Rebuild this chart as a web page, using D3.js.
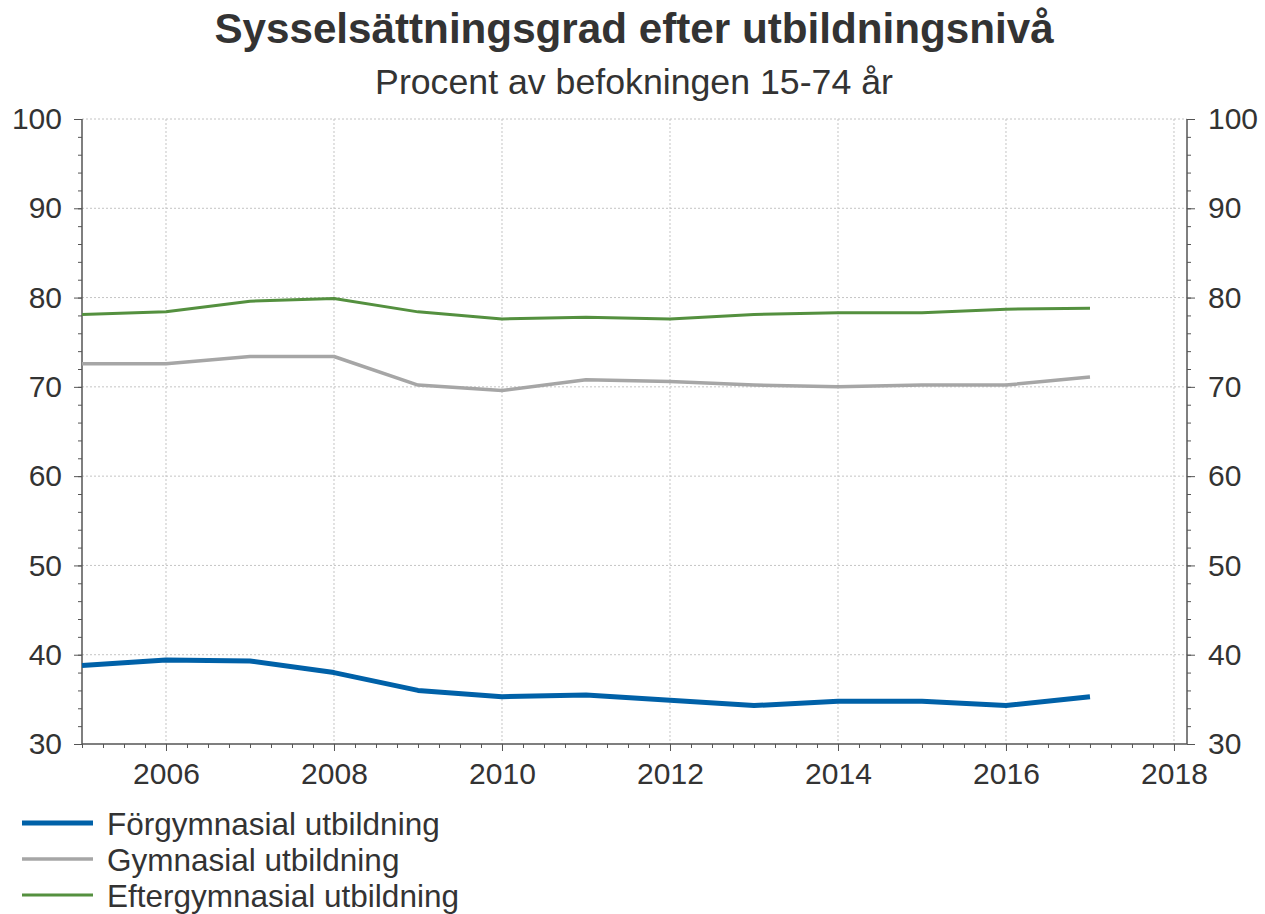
<!DOCTYPE html>
<html>
<head>
<meta charset="utf-8">
<script src="https://cdn.jsdelivr.net/npm/d3@7"></script>
<style>
  body { margin: 0; background: #fff; }
  svg text { font-family: "Liberation Sans", Arial, sans-serif; fill: #333; }
  .axis path, .axis line { stroke: #555; }
  .axis text { font-size: 30px; }
  .grid line { stroke: #c4c4c4; stroke-width: 1; stroke-dasharray: 2,2; }
</style>
</head>
<body>
<svg id="chart" width="1265" height="914"></svg>
<script>
const width = 1265;
const height = 914;

/* DATA */
const years = [2005, 2006, 2007, 2008, 2009, 2010, 2011, 2012, 2013, 2014, 2015, 2016, 2017];
const forgymnasial = [38.8, 39.4, 39.3, 38.0, 36.0, 35.3, 35.5, 34.9, 34.3, 34.8, 34.8, 34.3, 35.3];
const gymnasial = [72.6, 72.6, 73.4, 73.4, 70.2, 69.6, 70.8, 70.6, 70.2, 70.0, 70.2, 70.2, 71.1];
const eftergymnasial = [78.1, 78.4, 79.6, 79.9, 78.4, 77.6, 77.8, 77.6, 78.1, 78.3, 78.3, 78.7, 78.8];

const seriesNames = ["Förgymnasial utbildning", "Gymnasial utbildning", "Eftergymnasial utbildning"];
const seriesValues = [forgymnasial, gymnasial, eftergymnasial];
const seriesColors = ["#0061a8", "#a6a6a6", "#54903f"];
const seriesWidths = [5, 3.5, 3];

const yTicks = [30, 40, 50, 60, 70, 80, 90, 100];
const xTicks = [2006, 2008, 2010, 2012, 2014, 2016, 2018];

const titleText = "Sysselsättningsgrad efter utbildningsnivå";
const subtitleText = "Procent av befokningen 15-74 år";

/* PLOT AREA */
const margin = { top: 119, bottom: 170, left: 82, right: 78 };
const plotWidth = width - margin.left - margin.right;
const plotHeight = height - margin.top - margin.bottom;

const svg = d3.select("svg#chart");
const plot = svg.append("g").attr("transform", translate(margin.left, margin.top));

/* SCALES */
const x = d3.scaleLinear().domain([2005, 2018.155]).range([0, plotWidth]);
const y = d3.scaleLinear().domain([30, 100]).range([plotHeight, 0]);

/* TITLES */
svg.append("text")
  .attr("x", 634).attr("y", 43)
  .attr("text-anchor", "middle")
  .style("font-size", "42.2px")
  .style("font-weight", "bold")
  .text(titleText);

svg.append("text")
  .attr("x", 634).attr("y", 94)
  .attr("text-anchor", "middle")
  .style("font-size", "35.7px")
  .text(subtitleText);

/* GRID */
const grid = plot.append("g").attr("class", "grid");
grid.selectAll("line.h")
  .data(yTicks.filter(d => d > 30))
  .enter().append("line")
  .attr("class", "h")
  .attr("x1", 0).attr("x2", plotWidth)
  .attr("y1", d => y(d)).attr("y2", d => y(d));

grid.selectAll("line.v")
  .data(xTicks)
  .enter().append("line")
  .attr("class", "v")
  .attr("x1", d => x(d)).attr("x2", d => x(d))
  .attr("y1", 0).attr("y2", plotHeight);

/* AXES */
const minorY = d3.range(30, 100.1, 2);
const minorX = d3.range(2005, 2018.1, 0.25);

// minor ticks first, then major axes on top
plot.append("g").attr("class", "axis")
  .call(d3.axisLeft(y).tickValues(minorY).tickSize(4).tickFormat(""))
  .call(g => g.select(".domain").remove());
plot.append("g").attr("class", "axis")
  .attr("transform", translate(plotWidth, 0))
  .call(d3.axisRight(y).tickValues(minorY).tickSize(4).tickFormat(""))
  .call(g => g.select(".domain").remove());
plot.append("g").attr("class", "axis")
  .attr("transform", translate(0, plotHeight))
  .call(d3.axisBottom(x).tickValues(minorX).tickSize(4).tickFormat(""))
  .call(g => g.select(".domain").remove());

const yLeft = plot.append("g").attr("class", "axis")
  .call(d3.axisLeft(y).tickValues(yTicks).tickSize(8).tickSizeOuter(0).tickPadding(12).tickFormat(d3.format("d")));
const yRight = plot.append("g").attr("class", "axis")
  .attr("transform", translate(plotWidth, 0))
  .call(d3.axisRight(y).tickValues(yTicks).tickSize(8).tickSizeOuter(0).tickPadding(13).tickFormat(d3.format("d")));
const xAxis = plot.append("g").attr("class", "axis")
  .attr("transform", translate(0, plotHeight))
  .call(d3.axisBottom(x).tickValues(xTicks).tickSize(7).tickSizeOuter(0).tickPadding(12).tickFormat(d3.format("d")));

[yLeft, yRight, xAxis].forEach(g => {
  g.selectAll("text").attr("fill", "#333").style("font-size", "30px");
  g.select(".domain").remove();
});

// axis frame (left, right, bottom)
plot.append("line")
  .attr("x1", 0).attr("x2", 0).attr("y1", y(100)).attr("y2", y(30))
  .attr("stroke", "#555").attr("stroke-width", 1.5);
plot.append("line")
  .attr("x1", plotWidth).attr("x2", plotWidth).attr("y1", y(100)).attr("y2", y(30))
  .attr("stroke", "#555").attr("stroke-width", 1.5);
plot.append("line")
  .attr("x1", 0).attr("x2", plotWidth).attr("y1", y(30)).attr("y2", y(30))
  .attr("stroke", "#555").attr("stroke-width", 1.5);

/* LINES */
const line = d3.line()
  .x((d, i) => x(years[i]))
  .y(d => y(d));

seriesValues.forEach((vals, i) => {
  plot.append("path")
    .datum(vals)
    .attr("fill", "none")
    .attr("stroke", seriesColors[i])
    .attr("stroke-width", seriesWidths[i])
    .attr("stroke-linejoin", "round")
    .attr("d", line);
});

/* LEGEND */
const legend = svg.append("g").attr("id", "legend").attr("transform", translate(22, 823));
const items = legend.selectAll("g.item")
  .data(seriesNames)
  .enter().append("g")
  .attr("class", "item")
  .attr("transform", (d, i) => translate(0, i * 36));

items.append("line")
  .attr("x1", 0).attr("x2", 71)
  .attr("y1", 0).attr("y2", 0)
  .attr("stroke", (d, i) => seriesColors[i])
  .attr("stroke-width", (d, i) => seriesWidths[i]);

items.append("text")
  .attr("x", 85).attr("y", 12)
  .style("font-size", "31.5px")
  .text(d => d);

function translate(x, y) {
  return 'translate(' + String(x) + ',' + String(y) + ')';
}
</script>
</body>
</html>
